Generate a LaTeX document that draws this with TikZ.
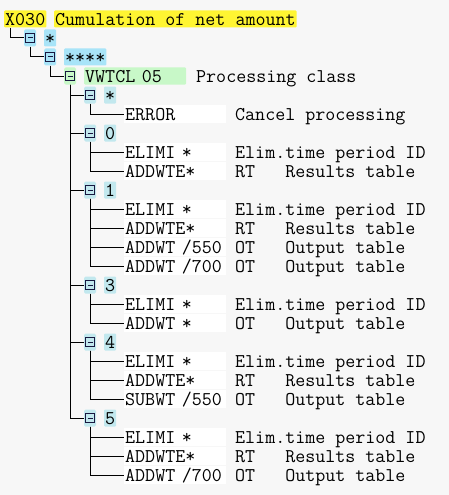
\documentclass[tikz,border=0pt]{standalone}
\usepackage{fontspec}
\usetikzlibrary{positioning}
\newcommand\treefont{\ttfamily\fontsize{19.45}{19}\selectfont}

\begin{document}
\begin{tikzpicture}[x=1pt, y=-1pt]
  \definecolor{bgcol}{RGB}{247,247,247}
  \definecolor{yellowhl}{RGB}{255,245,50}
  \definecolor{bluehl}{RGB}{168,228,248}
  \definecolor{tealhl}{RGB}{194,232,238}
  \definecolor{greenhl}{RGB}{200,248,200}
  \definecolor{togcol}{RGB}{24,24,64}
  \tikzset{
    txt/.style={anchor=west, inner xsep=1pt, inner ysep=0pt,
      text height=13.5pt, text depth=0.5pt, minimum height=18pt,
      font=\treefont, text=black},
    hl/.style={txt, fill=#1, minimum height=17pt, rounded corners=1pt},
    fld/.style={txt, fill=white, text width=100pt, align=left},
    dsc/.style={txt},
    tog/.style={rectangle, rounded corners=1.5pt, fill=#1,
      minimum width=12pt, minimum height=17pt, inner sep=0pt,
      path picture={
        \draw[togcol, line width=1pt, sharp corners]
          ([shift={(-4.5,-4.5)}]path picture bounding box.center) rectangle ++(9,9);
        \draw[togcol, line width=1pt]
          ([xshift=-2.5pt]path picture bounding box.center) -- ([xshift=2.5pt]path picture bounding box.center);
      }},
    tog/.default=tealhl,
    conn/.style={draw=black, line width=1pt}
  }
  \fill[bgcol] (0,0) rectangle (449,495);
  % header rows
  \node[hl=yellowhl] (x030) at (4,19) {X030};
  \node[hl=yellowhl] (x030d) at (54,19) {Cumulation of net amount};
  \node[tog=bluehl] (t1) at (30,38) {};
  \node[hl=bluehl] (k1) at (44,38) {*};
  \node[tog=bluehl] (t2) at (50,57) {};
  \node[hl=bluehl] (k2) at (64,57) {****};
  \node[tog=greenhl] (t3) at (70,76) {};
  \node[hl=greenhl, text width=100pt, align=left] (k3) at (84,76) {VWTCL 05};
  \node[dsc] (k3d) at (195,76) {Processing class};
  % group *
  \node[tog] (ts) at (90,95) {};
  \node[hl=tealhl] (ks) at (104,95) {*};
  \node[fld] (ls1) at (124,114) {ERROR};
  \node[dsc] (ds1) at (234,114) {Cancel processing};
  % group 0
  \node[tog] (t0) at (90,133) {};
  \node[hl=tealhl] (k0) at (104,133) {0};
  \node[fld] (l01) at (124,152) {ELIMI *};
  \node[dsc] (d01) at (234,152) {Elim.time period ID};
  \node[fld] (l02) at (124,171) {ADDWTE*};
  \node[dsc] (d02) at (234,171) {RT\ \ \ Results table};
  % group 1
  \node[tog] (t1g) at (90,190) {};
  \node[hl=tealhl] (k1g) at (104,190) {1};
  \node[fld] (l11) at (124,209) {ELIMI *};
  \node[dsc] (d11) at (234,209) {Elim.time period ID};
  \node[fld] (l12) at (124,228) {ADDWTE*};
  \node[dsc] (d12) at (234,228) {RT\ \ \ Results table};
  \node[fld] (l13) at (124,247) {ADDWT /550};
  \node[dsc] (d13) at (234,247) {OT\ \ \ Output table};
  \node[fld] (l14) at (124,266) {ADDWT /700};
  \node[dsc] (d14) at (234,266) {OT\ \ \ Output table};
  % group 3
  \node[tog] (t3g) at (90,285) {};
  \node[hl=tealhl] (k3g) at (104,285) {3};
  \node[fld] (l31) at (124,304) {ELIMI *};
  \node[dsc] (d31) at (234,304) {Elim.time period ID};
  \node[fld] (l32) at (124,323) {ADDWT *};
  \node[dsc] (d32) at (234,323) {OT\ \ \ Output table};
  % group 4
  \node[tog] (t4g) at (90,342) {};
  \node[hl=tealhl] (k4g) at (104,342) {4};
  \node[fld] (l41) at (124,361) {ELIMI *};
  \node[dsc] (d41) at (234,361) {Elim.time period ID};
  \node[fld] (l42) at (124,380) {ADDWTE*};
  \node[dsc] (d42) at (234,380) {RT\ \ \ Results table};
  \node[fld] (l43) at (124,399) {SUBWT /550};
  \node[dsc] (d43) at (234,399) {OT\ \ \ Output table};
  % group 5
  \node[tog] (t5g) at (90,418) {};
  \node[hl=tealhl] (k5g) at (104,418) {5};
  \node[fld] (l51) at (124,437) {ELIMI *};
  \node[dsc] (d51) at (234,437) {Elim.time period ID};
  \node[fld] (l52) at (124,456) {ADDWTE*};
  \node[dsc] (d52) at (234,456) {RT\ \ \ Results table};
  \node[fld] (l53) at (124,475) {ADDWT /700};
  \node[dsc] (d53) at (234,475) {OT\ \ \ Output table};
  % tree lines
  \draw[conn] (x030.south west) ++(6,0) |- (t1.west);
  \draw[conn] (t1.south) |- (t2.west);
  \draw[conn] (t2.south) |- (t3.west);
  \foreach \g in {ts,t0,t1g,t3g,t4g,t5g}
    \draw[conn] (t3.south) |- (\g.west);
  \foreach \g/\l in {ts/ls1, t0/l01, t0/l02, t1g/l11, t1g/l12, t1g/l13, t1g/l14,
      t3g/l31, t3g/l32, t4g/l41, t4g/l42, t4g/l43, t5g/l51, t5g/l52, t5g/l53}
    \draw[conn] (\g.south) |- (\l.west);
\end{tikzpicture}
\end{document}
